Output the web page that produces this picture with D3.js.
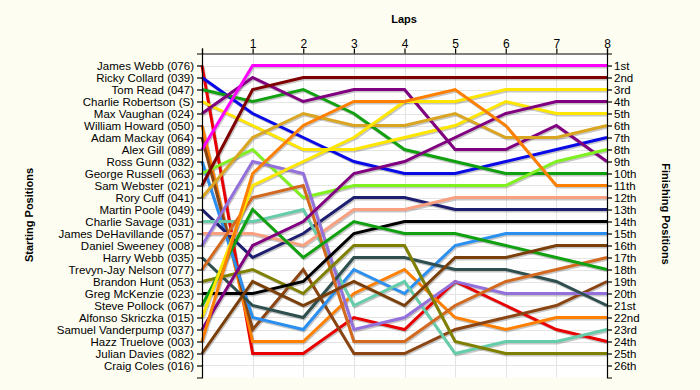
<!DOCTYPE html>
<html>
<head>
<meta charset="utf-8">
<script src="https://cdn.jsdelivr.net/npm/d3@7"></script>
<style>
  html, body { margin: 0; padding: 0; background: #FDFDF1; }
  svg { display: block; }
  text { font-family: "Liberation Sans", Arial, sans-serif; }
</style>
</head>
<body>
<svg id="chart" width="700" height="390"></svg>
<script>
// ---------- data ----------
const drivers = [
  "James Webb (076)", "Ricky Collard (039)", "Tom Read (047)", "Charlie Robertson (S)",
  "Max Vaughan (024)", "William Howard (050)", "Adam Mackay (064)", "Alex Gill (089)",
  "Ross Gunn (032)", "George Russell (063)", "Sam Webster (021)", "Rory Cuff (041)",
  "Martin Poole (049)", "Charlie Savage (031)", "James DeHavillande (057)", "Daniel Sweeney (008)",
  "Harry Webb (035)", "Trevyn-Jay Nelson (077)", "Brandon Hunt (053)", "Greg McKenzie (023)",
  "Steve Pollock (067)", "Alfonso Skriczka (015)", "Samuel Vanderpump (037)", "Hazz Truelove (003)",
  "Julian Davies (082)", "Craig Coles (016)"
];
const laps = [0, 1, 2, 3, 4, 5, 6, 7, 8];
const lapLabels = ["", "1", "2", "3", "4", "5", "6", "7", "8"];
const finishLabels = [
  "1st","2nd","3rd","4th","5th","6th","7th","8th","9th","10th","11th","12th","13th",
  "14th","15th","16th","17th","18th","19th","20th","21st","22nd","23rd","24th","25th","26th"
];
// position of each driver at laps 0..8 (same order as drivers)
const positions = [
  [1, 25, 25, 22, 23, 19, 21, 23, 24],
  [2, 5, 7, 9, 10, 10, 9, 8, 7],
  [3, 4, 3, 5, 8, 9, 10, 10, 10],
  [4, 6, 8, 8, 7, 6, 4, 5, 5],
  [5, 2, 4, 3, 3, 8, 8, 6, 9],
  [6, 24, 24, 20, 18, 22, 23, 22, 22],
  [7, 23, 18, 25, 25, 23, 22, 21, 19],
  [8, 1, 1, 1, 1, 1, 1, 1, 1],
  [9, 22, 23, 18, 20, 16, 15, 15, 15],
  [10, 8, 12, 11, 11, 11, 11, 9, 8],
  [11, 3, 2, 2, 2, 2, 2, 2, 2],
  [12, 7, 5, 6, 6, 5, 7, 7, 6],
  [13, 17, 15, 12, 12, 13, 13, 13, 13],
  [14, 14, 13, 21, 19, 25, 24, 24, 23],
  [15, 15, 16, 13, 13, 12, 12, 12, 12],
  [16, 9, 10, 23, 22, 19, 20, 20, 20],
  [17, 21, 22, 17, 17, 18, 18, 19, 21],
  [18, 12, 11, 24, 24, 21, 19, 18, 17],
  [19, 18, 20, 16, 16, 24, 25, 25, 25],
  [20, 20, 19, 15, 14, 14, 14, 14, 14],
  [21, 13, 17, 14, 15, 15, 16, 17, 18],
  [22, 11, 9, 7, 4, 4, 3, 3, 3],
  [23, 16, 14, 10, 9, 7, 5, 4, 4],
  [24, 10, 6, 4, 4, 3, 6, 11, 11],
  [25, 19, 21, 19, 21, 17, 17, 16, 16],
  null
];
const colors = [
  "#E80000", "#0A0AE6", "#10A010", "#FFE600", "#800080", "#FF8000", "#8B4513", "#FF00FF",
  "#2B8FF0", "#80F020", "#800000", "#DAA520", "#1E1E70", "#66CDAA", "#F8A080", "#9370DB",
  "#2F4F4F", "#D2691E", "#808000", "#000000", "#10A010", "#FFE600", "#800080", "#FF8000",
  "#7A3E08", "#999999"
];

// ---------- layout ----------
const svg = d3.select("#chart");
const pLeft = 202, pRight = 607, pTop = 53.5, pBottom = 377.5;

const x = d3.scaleLinear().domain([0, 8]).range([pLeft, pRight]);
const y = d3.scaleLinear().domain([0, 27]).range([pTop, pBottom]);
const posTicks = d3.range(1, 27);

svg.append("rect").attr("width", 700).attr("height", 390).attr("fill", "#FDFDF1");
svg.append("rect").attr("x", pLeft).attr("y", pTop).attr("width", pRight - pLeft).attr("height", pBottom - pTop)
  .attr("fill", "#FFFFFF");

// grid
const grid = svg.append("g").attr("stroke", "#E4E4E4").attr("stroke-width", 1);
grid.selectAll("line.h").data(posTicks).join("line").attr("class", "h")
  .attr("x1", pLeft).attr("x2", pRight)
  .attr("y1", d => Math.round(y(d)) + 0.5).attr("y2", d => Math.round(y(d)) + 0.5);
grid.selectAll("line.v").data(laps.slice(1, 8)).join("line").attr("class", "v")
  .attr("y1", pTop).attr("y2", pBottom)
  .attr("x1", d => Math.round(x(d)) + 0.5).attr("x2", d => Math.round(x(d)) + 0.5);

// lines
const line = d3.line().x((d, i) => x(laps[i])).y(d => y(d));
const series = positions.map((p, i) => ({ p, c: colors[i] })).filter(s => s.p);
const shadows = svg.append("g").attr("transform", "translate(1,1.5)");
shadows.selectAll("path").data(series).join("path")
  .attr("d", d => line(d.p)).attr("fill", "none")
  .attr("stroke", "rgba(0,0,0,0.22)").attr("stroke-width", 3).attr("stroke-linejoin", "round");
const lines = svg.append("g");
lines.selectAll("path").data(series).join("path")
  .attr("d", d => line(d.p)).attr("fill", "none")
  .attr("stroke", d => d.c).attr("stroke-width", 3).attr("stroke-linejoin", "miter");

// axes
function styleAxis(g) {
  g.selectAll("path, line").attr("stroke", "#000").attr("stroke-width", 1.2);
  g.selectAll("text").attr("fill", "#000").style("font-size", "11.5px")
    .style("font-family", '"Liberation Sans", Arial, sans-serif');
}
const axL = svg.append("g").attr("transform", `translate(${pLeft},0)`)
  .call(d3.axisLeft(y).tickValues(posTicks).tickFormat(d => drivers[d - 1]).tickSize(5).tickSizeOuter(5).tickPadding(3));
styleAxis(axL);
const axR = svg.append("g").attr("transform", `translate(${pRight},0)`)
  .call(d3.axisRight(y).tickValues(posTicks).tickFormat(d => finishLabels[d - 1]).tickSize(5).tickSizeOuter(5).tickPadding(2));
styleAxis(axR);
const axT = svg.append("g").attr("transform", `translate(0,${pTop})`)
  .call(d3.axisTop(x).tickValues(laps).tickFormat(d => lapLabels[d]).tickSize(5).tickSizeOuter(5).tickPadding(1));
styleAxis(axT);
axT.selectAll("text").style("font-size", "12px");

// titles
svg.append("text").attr("x", 404).attr("y", 23).attr("text-anchor", "middle")
  .style("font-weight", "bold").style("font-size", "11px").text("Laps");
svg.append("text").attr("transform", "translate(33,215) rotate(-90)").attr("text-anchor", "middle")
  .style("font-weight", "bold").style("font-size", "11px").text("Starting Positions");
svg.append("text").attr("transform", "translate(662,214) rotate(90)").attr("text-anchor", "middle")
  .style("font-weight", "bold").style("font-size", "11px").text("Finishing Positions");
</script>
</body>
</html>
